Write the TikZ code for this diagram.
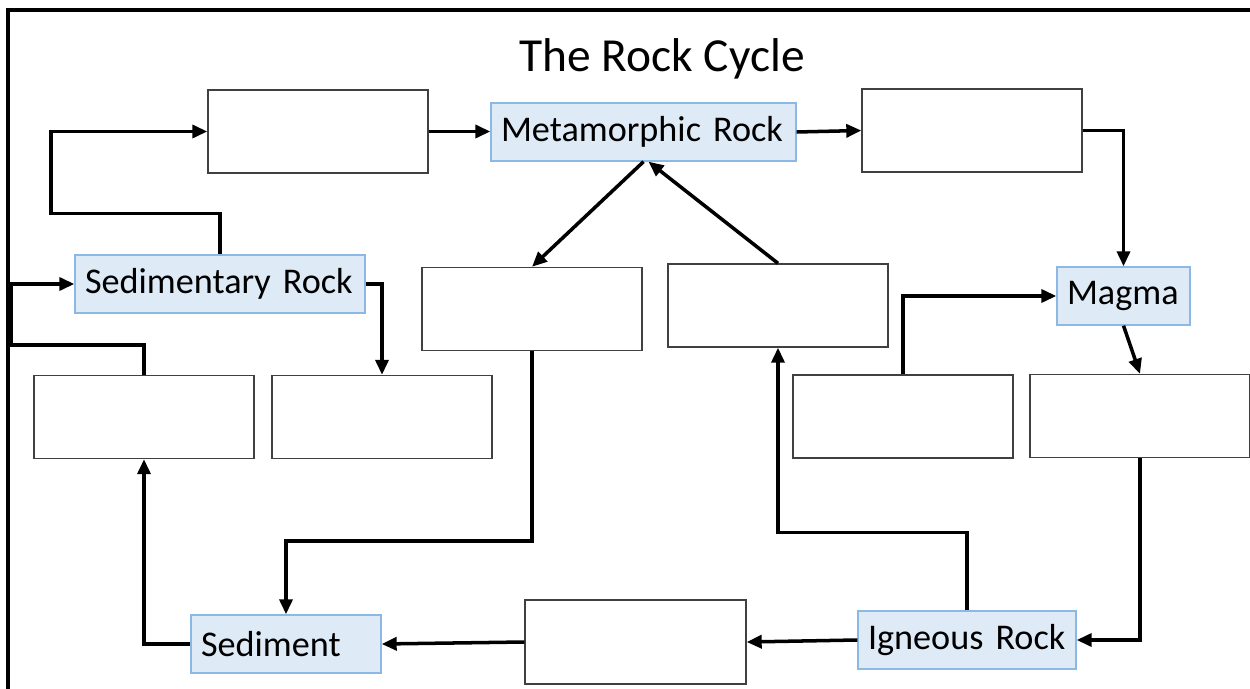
\documentclass[tikz,border=0pt]{standalone}
\usepackage{fontspec}
\setmainfont{Carlito}
\usetikzlibrary{arrows.meta, positioning, calc}
\definecolor{rockfill}{RGB}{222,235,247}
\definecolor{rockline}{RGB}{140,185,228}
\definecolor{blankline}{RGB}{64,64,64}
\tikzset{
        x=0.02cm, y=-0.02cm, % one unit is one pixel of the sheet, y grows downwards
        flow/.style={line width=2pt, -{Triangle[length=0.3cm, width=0.26cm]}}, % the thick connectors
        blank/.style={draw=blankline, line width=0.8pt, fill=white, minimum width=4.4cm, minimum height=1.66cm}, % empty boxes to fill in
        rock/.style={draw=rockline, line width=0.8pt, fill=rockfill, minimum height=1.16cm, inner xsep=0.2cm, align=left, text width=#1, font=\fontsize{20.6}{24}\selectfont}, % named stages
        }

\begin{document}
\begin{tikzpicture}
        \useasboundingbox (0,0) rectangle (1250,689);
        % frame round the sheet
        \draw[line width=2pt] (8,700) -- (8,10) -- (1262,10);
        \node (title) at (662,59) {\fontsize{27}{32}\selectfont The Rock Cycle};

        % stages
        \node[rock=5.7cm] (meta) at (643.5,132) {\mbox{Metamorphic Rock}};
        \node[rock=5.4cm] (sed) at (220,284) {\mbox{Sedimentary Rock}};
        \node[rock=2.26cm] (magma) at (1123.5,296) {Magma};
        \node[rock=3.4cm] (sedi) at (286,644) {Sediment};
        \node[rock=3.96cm] (ign) at (967,640) {\mbox{Igneous Rock}};

        % blank boxes
        \node[blank] (boxA) at (318,131.5) {};
        \node[blank] (boxB) at (972,130.5) {};
        \node[blank] (boxC) at (532,309) {};
        \node[blank] (boxD) at (778,305.5) {};
        \node[blank] (boxE) at (144,417) {};
        \node[blank] (boxF) at (382,417) {};
        \node[blank] (boxG) at (903,416.5) {};
        \node[blank] (boxH) at (1140,416) {};
        \node[blank, minimum width=4.42cm, minimum height=1.68cm] (boxI) at (635.5,642) {};

        % connectors
        \draw[flow] (sed.north) -- ++(0,-41) -- ++(-169,0) |- (boxA.west);
        \draw[flow] (boxA.east) -- (boxA.east -| meta.west);
        \draw[flow] (meta.east) -- (boxB.west);
        \draw[flow] (boxB.east) -| (magma.north);
        \draw[flow] (magma.south) -- (boxH.north);
        \draw[flow] (boxH.south) |- (ign.east);
        \draw[flow] (ign.west) -- (boxI.east);
        \draw[flow] (boxI.west) -- (sedi.east);
        \draw[flow] (sedi.west) -| (boxE.south);
        \draw[flow] (boxE.north) -- ++(0,-30) -- ++(-133,0) |- (sed.west);
        \draw[flow] (sed.east) -| (boxF.north);
        \draw[flow] (meta.south) -- (boxC.north);
        \draw[flow] (boxD.north) -- ([xshift=0.1cm]meta.south);
        \draw[flow] (boxC.south) -- ++(0,190) -| (sedi.north);
        \draw[flow] (ign.north) -- ++(0,-78) -| (boxD.south);
        \draw[flow] (boxG.north) |- (magma.west);
\end{tikzpicture}
\end{document}
